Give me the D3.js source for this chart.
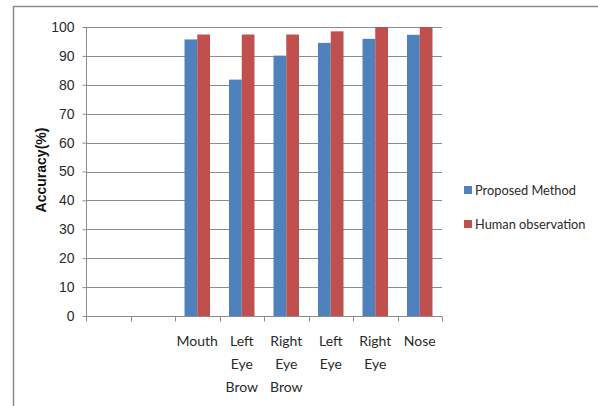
<!DOCTYPE html>
<html>
<head>
<meta charset="utf-8">
<script src="https://cdn.jsdelivr.net/npm/d3@7"></script>
<style>
  body { margin: 0; background: #fff; }
  svg { display: block; font-family: Lato, "Open Sans", sans-serif; }
  .grid line { stroke: #8c8c8c; stroke-width: 1; }
  .axis text { fill: #2a2a2a; font-size: 14px; }
  .axis line, .axis path { stroke: #8c8c8c; }
</style>
</head>
<body>
<svg class="chart" width="598" height="406"></svg>
<script>
// two leading categories are empty in the original chart
const categories = ["", " ", "Mouth", "Left Eye Brow", "Right Eye Brow", "Left Eye", "Right Eye", "Nose"]
const seriesNames = ["Proposed Method", "Human observation"]
const proposed = [null, null, 95.7, 81.8, 90.1, 94.5, 95.9, 97.3]
const human = [null, null, 97.4, 97.4, 97.4, 98.5, 100, 100]
const yTicks = [0, 10, 20, 30, 40, 50, 60, 70, 80, 90, 100]
const colors = ["#4f81bd", "#c0504d"]

const margin = { top: 27, left: 86, right: 156, bottom: 90 }
const width = 598 - margin.left - margin.right
const height = 316 - margin.top

const svg = d3.select("svg.chart")

// outer frame (cut off at right and bottom like the source)
svg.append("path")
  .attr("d", "M13.5,406 V6.5 H598")
  .attr("fill", "none")
  .attr("stroke", "#8c8c8c")
  .attr("stroke-width", 1.5)

const g = svg.append("g")
  .attr("transform", `translate(${margin.left},${margin.top})`)

const x = d3.scaleBand().domain(categories).range([0, width])
const y = d3.scaleLinear().domain([0, 100]).range([height, 0])
const x1 = d3.scaleBand().domain(seriesNames).range([0, 25.5])

// gridlines
g.append("g").attr("class", "grid")
  .selectAll("line")
  .data(yTicks)
  .join("line")
  .attr("x1", 0).attr("x2", width)
  .attr("y1", d => Math.round(y(d)) + 0.5)
  .attr("y2", d => Math.round(y(d)) + 0.5)

// y axis
const yAxis = g.append("g").attr("class", "axis")
  .attr("transform", "translate(0.5,0)")
  .call(d3.axisLeft(y).tickValues(yTicks).tickSize(4).tickPadding(8))
yAxis.select(".domain").attr("d", `M0,0 V${height}`)

// x axis with ticks between categories
const xAxis = g.append("g").attr("class", "axis")
  .attr("transform", `translate(0,${height + 0.5})`)
xAxis.append("line").attr("x1", 0).attr("x2", width)
xAxis.selectAll("line.tick")
  .data(d3.range(categories.length + 1))
  .join("line")
  .attr("class", "tick")
  .attr("x1", i => Math.round(i * x.step()) + 0.5)
  .attr("x2", i => Math.round(i * x.step()) + 0.5)
  .attr("y1", 0).attr("y2", 5)

xAxis.selectAll("text")
  .data(categories)
  .join("text")
  .attr("text-anchor", "middle")
  .attr("transform", d => `translate(${x(d) + x.bandwidth() / 2},29)`)
  .each(function(d) {
    const words = d.trim().split(" ")
    d3.select(this).selectAll("tspan")
      .data(words)
      .join("tspan")
      .attr("x", 0)
      .attr("dy", (w, i) => i === 0 ? 0 : 23)
      .text(w => w)
  })

// bars
const seriesData = [proposed, human]
seriesData.forEach((vals, s) => {
  g.append("g")
    .selectAll("rect")
    .data(categories.map((c, i) => ({ c, v: vals[i] })).filter(d => d.v != null))
    .join("rect")
    .attr("x", d => x(d.c) + (x.bandwidth() - x1.range()[1]) / 2 + x1(seriesNames[s]))
    .attr("width", x1.bandwidth())
    .attr("y", d => y(d.v))
    .attr("height", d => y(0) - y(d.v))
    .attr("fill", colors[s])
})

// y title
svg.append("text")
  .attr("transform", "translate(46,170) rotate(-90)")
  .attr("text-anchor", "middle")
  .attr("font-family", "Liberation Sans, Arial, sans-serif")
  .attr("font-weight", "bold")
  .attr("font-size", 14)
  .attr("fill", "#111")
  .text("Accuracy(%)")

// legend
const legend = svg.append("g")
  .selectAll("g")
  .data(seriesNames)
  .join("g")
  .attr("transform", (d, i) => `translate(464,${190 + i * 34})`)
legend.append("rect")
  .attr("x", 0).attr("y", -4).attr("width", 8).attr("height", 8)
  .attr("fill", (d, i) => colors[i])
legend.append("text")
  .attr("x", 11).attr("y", 5)
  .attr("font-size", 12.8)
  .attr("fill", "#2a2a2a")
  .text(d => d)
</script>
</body>
</html>
